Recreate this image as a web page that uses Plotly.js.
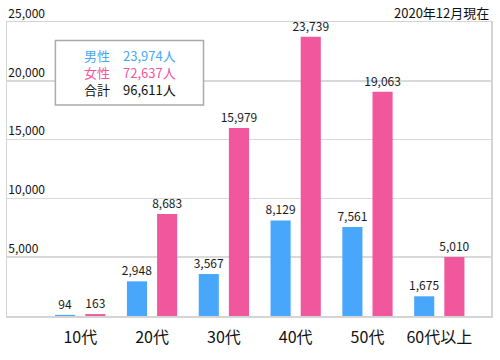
<!DOCTYPE html>
<html>
<head>
<meta charset="utf-8">
<script src="https://cdn.plot.ly/plotly-3.0.1.min.js"></script>
<style>html,body{margin:0;padding:0;background:#fff;}#chart{width:500px;height:360px;}</style>
</head>
<body>
<div id="chart"></div>
<script>
const categories = ['10代', '20代', '30代', '40代', '50代', '60代以上'];
const male = [94, 2948, 3567, 8129, 7561, 1675];
const female = [163, 8683, 15979, 23739, 19063, 5010];
const seriesNames = ['男性', '女性', '合計'];
const yTicks = [5000, 10000, 15000, 20000, 25000];
const asOfText = '2020年12月現在';

const BLUE = '#48a7fa';
const PINK = '#f1579d';
const FONT = '"Noto Sans CJK JP", "Noto Sans", sans-serif';

const sum = a => a.reduce((s, v) => s + v, 0);
const maleTotal = sum(male);
const femaleTotal = sum(female);
const allTotal = maleTotal + femaleTotal;
const fmt = v => v.toLocaleString('en-US');

const traces = [
  {type: 'bar', name: seriesNames[0], x: categories, y: male,
   marker: {color: BLUE}, width: 0.28, offset: -0.35,
   text: male.map(fmt), textposition: 'outside', cliponaxis: false, constraintext: 'none',
   textfont: {family: FONT, size: 12, color: '#1a1a1a'}, hoverinfo: 'skip'},
  {type: 'bar', name: seriesNames[1], x: categories, y: female,
   marker: {color: PINK}, width: 0.28, offset: 0.07,
   text: female.map(fmt), textposition: 'outside', cliponaxis: false, constraintext: 'none',
   textfont: {family: FONT, size: 12, color: '#1a1a1a'}, hoverinfo: 'skip'}
];

const boxRows = [
  {label: seriesNames[0], value: maleTotal, color: BLUE},
  {label: seriesNames[1], value: femaleTotal, color: PINK},
  {label: seriesNames[2], value: allTotal, color: '#111'}
];
const labelCol = boxRows.map(r => `<span style="color:${r.color}">${r.label}</span>`).join('<br>');
const valueCol = boxRows.map(r => `<span style="color:${r.color}">${fmt(r.value)}人</span>`).join('<br>');
const annotations = [
  {xref: 'paper', yref: 'paper', x: 0.155, y: 0.827, xanchor: 'left', yanchor: 'middle', align: 'left',
   text: labelCol, showarrow: false, font: {family: FONT, size: 13, color: '#111'}},
  {xref: 'paper', yref: 'paper', x: 0.236, y: 0.827, xanchor: 'left', yanchor: 'middle', align: 'left',
   text: valueCol, showarrow: false, font: {family: FONT, size: 13, color: '#111'}},
  {xref: 'paper', yref: 'paper', x: 1.0, y: 1.0, yshift: 10, xanchor: 'right', yanchor: 'middle',
   text: asOfText, showarrow: false, font: {family: FONT, size: 13, color: '#111'}}
];

const layout = {
  width: 500, height: 360,
  margin: {l: 7, r: 9, t: 22, b: 44},
  paper_bgcolor: '#fff', plot_bgcolor: '#fff',
  showlegend: false,
  barmode: 'group',
  font: {family: FONT, color: '#111'},
  xaxis: {type: 'category', range: [-1.02, 5.72], showgrid: false,
    showline: true, linecolor: '#d4d4d4', linewidth: 1.5, mirror: true,
    ticks: '', ticklabelstandoff: 6,
    tickfont: {family: FONT, size: 16, color: '#111'}, fixedrange: true},
  yaxis: {range: [0, 25000], tickvals: yTicks, ticktext: yTicks.map(fmt),
    showgrid: true, gridcolor: '#d9d9d9', gridwidth: 1.5, zeroline: false,
    showline: true, linecolor: '#d4d4d4', linewidth: 1.5, mirror: true,
    ticks: '', ticklabelposition: 'inside top', ticklabeloverflow: 'allow',
    tickfont: {family: FONT, size: 12, color: '#111'}, fixedrange: true},
  shapes: [{type: 'rect', xref: 'paper', yref: 'paper', x0: 0.1, x1: 0.406, y0: 0.718, y1: 0.937,
    line: {color: '#aaaaaa', width: 1.5}, fillcolor: '#ffffff', layer: 'above'}],
  annotations: annotations
};

Plotly.newPlot('chart', traces, layout, {displayModeBar: false, staticPlot: true});
</script>
</body>
</html>
